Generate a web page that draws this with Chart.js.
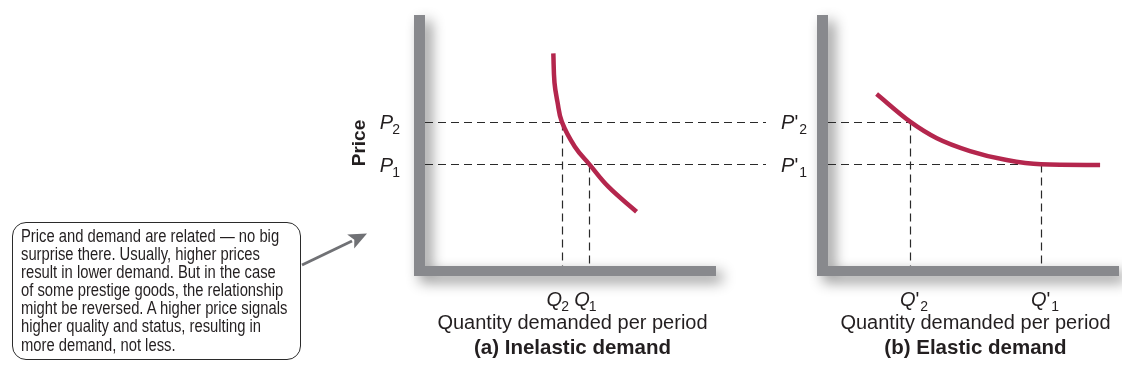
<!DOCTYPE html>
<html>
<head>
<meta charset="utf-8">
<script src="https://cdn.jsdelivr.net/npm/chart.js@4.4.1/dist/chart.umd.min.js"></script>
<style>
  html, body { margin: 0; padding: 0; background: #fff; }
  #stage { position: relative; width: 1122px; height: 378px; overflow: hidden; background: #fff; }
  canvas.panel { position: absolute; left: 0; top: 0; }
  #note {
    position: absolute; left: 12px; top: 222px; width: 289px; height: 138px;
    border: 1.3px solid #2b2b2b; border-radius: 14px; box-sizing: border-box; background: #fff;
  }
  #note p {
    margin: 0; position: absolute; left: 8px; top: 4px;
    font: 17.5px "Liberation Sans", Arial, sans-serif; line-height: 18.1px;
    white-space: pre; transform: scaleX(0.845); transform-origin: 0 0; color: #231f20;
  }
  #pointer { position: absolute; left: 0; top: 0; }
</style>
</head>
<body>
<div id="stage">
  <canvas id="inelastic" class="panel" width="1122" height="378"></canvas>
  <canvas id="elastic" class="panel" width="1122" height="378"></canvas>
  <div id="note"><p>Price and demand are related — no big
surprise there. Usually, higher prices
result in lower demand. But in the case
of some prestige goods, the relationship
might be reversed. A higher price signals
higher quality and status, resulting in
more demand, not less.</p></div>
  <svg id="pointer" width="1122" height="378">
    <line x1="302" y1="265" x2="352" y2="241" stroke="#707175" stroke-width="2.8"/>
    <polygon points="367,233.5 347.2,234.6 354.3,239.7 354.2,248.4" fill="#707175"/>
  </svg>
</div>
<script>
// Demand curves (quantity, price) in arbitrary units on 0–100 scales
const inelasticQty   = [44.1, 44.5, 45.5, 47.0, 51.5, 56.5, 63.0, 72.7];
const inelasticPrice = [84.7, 73.0, 65.5, 57.5, 47.5, 40.5, 31.6, 21.6];
const elasticQty     = [16.7, 28.2, 37.4, 48.8, 61.4, 73.2, 93.5];
const elasticPrice   = [68.5, 57.5, 50.9, 45.8, 42.2, 40.5, 40.2];

// Price levels P2, P1 (shared by both panels) and the matching quantities
const priceLevels         = [57.5, 40.5];
const inelasticQuantities = [47.0, 56.5];
const elasticQuantities   = [28.2, 73.2];
const levelSubscripts     = ['2', '1'];

const axisTitle   = 'Quantity demanded per period';
const priceTitle  = 'Price';
const panelTitles = ['(a) Inelastic demand', '(b) Elastic demand'];

const INK = '#231f20';
const CURVE = '#b4264d';
const FRAME = '#88898d';
const FONT = '"Liberation Sans", Arial, sans-serif';

function toPoints(xs, ys) { return xs.map((x, i) => ({ x, y: ys[i] })); }

// Draws "P₂", "P′₂", "Q₁" … : italic letter, optional prime, small subscript
function drawSymbol(ctx, x, y, letter, prime, sub, align) {
  ctx.save();
  const mainFont = 'italic 20px ' + FONT;
  const primeFont = '20px ' + FONT;
  const subFont = '14px ' + FONT;
  ctx.font = mainFont; const wL = ctx.measureText(letter).width - 1;
  ctx.font = primeFont; const wP = prime ? ctx.measureText("'").width + 2 : 0;
  ctx.font = subFont; const wS = ctx.measureText(sub).width;
  const total = wL + wP + wS;
  let x0 = x;
  if (align === 'right') x0 = x - total;
  else if (align === 'center') x0 = x - total / 2;
  ctx.fillStyle = INK;
  ctx.textBaseline = 'alphabetic';
  ctx.textAlign = 'left';
  ctx.font = mainFont; ctx.fillText(letter, x0, y);
  if (prime) { ctx.font = primeFont; ctx.fillText("'", x0 + wL + 1, y); }
  ctx.font = subFont; ctx.fillText(sub, x0 + wL + wP, y + 5);
  ctx.restore();
}

// Thick grey axes with a soft drop shadow
const axisFrame = {
  id: 'axisFrame',
  beforeDatasetsDraw(chart) {
    const { ctx, chartArea: a } = chart;
    ctx.save();
    ctx.shadowColor = 'rgba(0,0,0,0.45)';
    ctx.shadowBlur = 14;
    ctx.shadowOffsetX = 6;
    ctx.shadowOffsetY = 6;
    ctx.fillStyle = FRAME;
    ctx.beginPath();
    ctx.rect(a.left - 11, a.top, 11, a.bottom + 10 - a.top);
    ctx.rect(a.left - 11, a.bottom, a.right - a.left + 11, 10);
    ctx.fill();
    ctx.restore();
  }
};

// Dashed guides from each (Q, P) point to both axes
const guides = {
  id: 'guides',
  beforeDatasetsDraw(chart, args, opts) {
    const { ctx, chartArea: a, scales: { x, y } } = chart;
    ctx.save();
    ctx.strokeStyle = '#2a2a2a';
    ctx.lineWidth = 1.2;
    ctx.setLineDash([8, 5]);
    opts.quantities.forEach((q, i) => {
      const py = Math.round(y.getPixelForValue(priceLevels[i])) + 0.5;
      const px = Math.round(x.getPixelForValue(q)) + 0.5;
      const hEnd = opts.reachPx != null ? opts.reachPx : px;
      ctx.beginPath(); ctx.moveTo(a.left, py); ctx.lineTo(hEnd, py); ctx.stroke();
      ctx.beginPath(); ctx.moveTo(px, py); ctx.lineTo(px, a.bottom); ctx.stroke();
    });
    ctx.restore();
  }
};

// Price / quantity symbols, axis text and panel caption
const labels = {
  id: 'labels',
  afterDatasetsDraw(chart, args, opts) {
    const { ctx, chartArea: a, scales: { x, y } } = chart;
    priceLevels.forEach((p, i) => {
      drawSymbol(ctx, a.left - opts.pGap, y.getPixelForValue(p) + 7.5, 'P', opts.prime, levelSubscripts[i], 'right');
    });
    opts.quantities.forEach((q, i) => {
      drawSymbol(ctx, x.getPixelForValue(q) + opts.qShift, 306, 'Q', opts.prime, levelSubscripts[i], 'center');
    });
    const cx = (a.left + a.right) / 2 + 2;
    ctx.save();
    ctx.fillStyle = INK;
    ctx.textAlign = 'center';
    ctx.textBaseline = 'alphabetic';
    ctx.font = '20px ' + FONT;
    ctx.fillText(axisTitle, cx, 329);
    ctx.font = 'bold 20.5px ' + FONT;
    ctx.fillText(opts.title, cx, 354);
    if (opts.showPrice) {
      const midY = (y.getPixelForValue(priceLevels[0]) + y.getPixelForValue(priceLevels[1])) / 2;
      ctx.translate(365, midY);
      ctx.rotate(-Math.PI / 2);
      ctx.font = 'bold 19px ' + FONT;
      ctx.fillText(priceTitle, 0, 0);
    }
    ctx.restore();
  }
};

function makePanel(id, qty, price, quantities, pad, extra) {
  return new Chart(document.getElementById(id), {
    type: 'line',
    data: {
      datasets: [{
        data: toPoints(qty, price),
        borderColor: CURVE,
        borderWidth: 4.5,
        borderCapStyle: 'butt',
        pointRadius: 0,
        tension: extra.tension,
        cubicInterpolationMode: extra.mode,
        fill: false
      }]
    },
    options: {
      responsive: false,
      animation: false,
      events: [],
      layout: { padding: pad },
      scales: {
        x: { type: 'linear', min: 0, max: 100, display: false },
        y: { type: 'linear', min: 0, max: 100, display: false }
      },
      plugins: {
        legend: { display: false },
        tooltip: { enabled: false },
        guides: { quantities, reachPx: extra.reachPx },
        labels: { quantities, prime: extra.prime, qShift: extra.qShift, pGap: extra.pGap, title: extra.title, showPrice: extra.showPrice }
      }
    },
    plugins: [axisFrame, guides, labels]
  });
}

makePanel('inelastic', inelasticQty, inelasticPrice, inelasticQuantities,
  { left: 425, right: 406, top: 15, bottom: 112 },
  { reachPx: 766, prime: false, qShift: -4, pGap: 25, title: panelTitles[0], showPrice: true, tension: 0.4, mode: 'default' });

makePanel('elastic', elasticQty, elasticPrice, elasticQuantities,
  { left: 828, right: 3, top: 15, bottom: 112 },
  { reachPx: null, prime: true, qShift: 4, pGap: 21, title: panelTitles[1], showPrice: false, tension: 0.4, mode: 'monotone' });
</script>
</body>
</html>
